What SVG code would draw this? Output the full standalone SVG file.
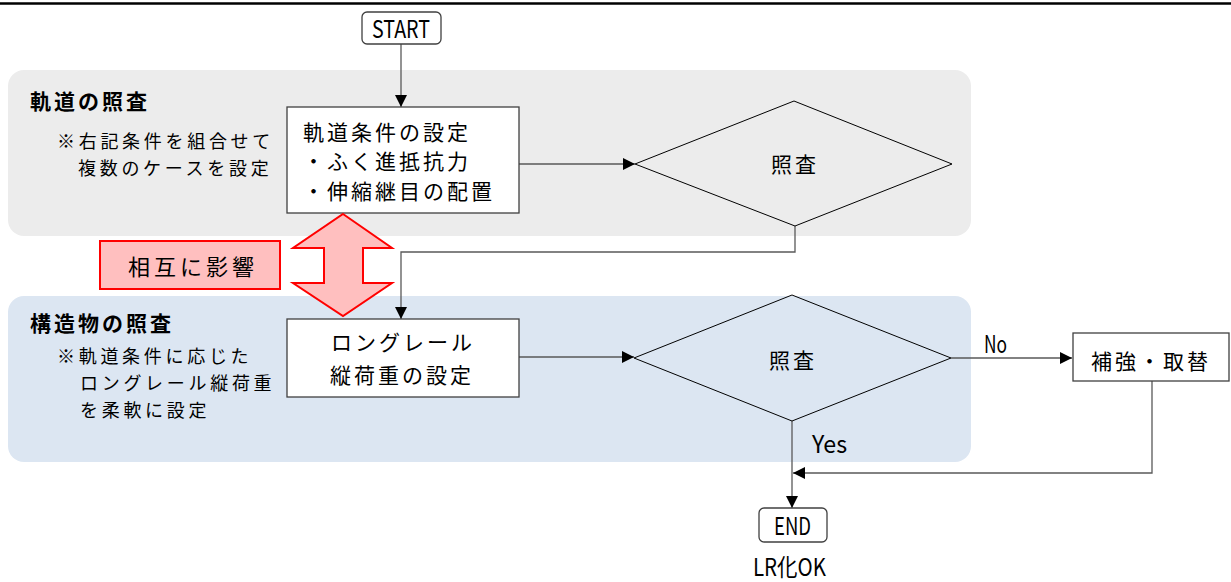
<svg xmlns="http://www.w3.org/2000/svg" width="1231" height="582" viewBox="0 0 1231 582">
<style>
text{font-family:"Noto Sans CJK JP","Noto Sans CJK SC",sans-serif;fill:#000}
.box{fill:#fff;stroke:#404040;stroke-width:1.3}
.term{fill:#fff;stroke:#404040;stroke-width:1.3}
.dia{fill:none;stroke:#000;stroke-width:1}
.bt{font-size:21px;letter-spacing:3px}
.nt{font-size:18px;letter-spacing:3.7px}
.tt{font-size:21px;font-weight:bold;letter-spacing:3px}
.lt{font-size:24px}
.con{fill:none;stroke:#595959;stroke-width:1.3}
</style>
<defs>
<marker id="ah" viewBox="0 0 12 12" refX="12" refY="6" markerWidth="12" markerHeight="12" markerUnits="userSpaceOnUse" orient="auto">
<path d="M0,0 L12,6 L0,12 z" fill="#000"/>
</marker>
</defs>
<rect x="0" y="0" width="1231" height="582" fill="#fff"/>
<line x1="0" y1="3.5" x2="1231" y2="3.5" stroke="#000" stroke-width="2.5"/>

<g id="panel-track">
<rect x="8" y="70" width="963" height="166" rx="16" fill="#ececec"/>
<text class="tt" x="30" y="109">軌道の照査</text>
<text class="nt" x="57" y="148">※右記条件を組合せて</text>
<text class="nt" x="78" y="175">複数のケースを設定</text>
</g>
<g id="panel-structure">
<rect x="8" y="296" width="963" height="166" rx="16" fill="#dce6f2"/>
<text class="tt" x="30" y="331">構造物の照査</text>
<text class="nt" x="57" y="363">※軌道条件に応じた</text>
<text class="nt" x="80" y="390">ロングレール縦荷重</text>
<text class="nt" x="80" y="417">を柔軟に設定</text>
</g>

<g id="connectors">
<path class="con" d="M401,44 V107" marker-end="url(#ah)"/>
<path class="con" d="M519,164 H635" marker-end="url(#ah)"/>
<path class="con" d="M795,226 V252 H401 V319" marker-end="url(#ah)"/>
<path class="con" d="M519,357 H634" marker-end="url(#ah)"/>
<path class="con" d="M951,358 H1072" marker-end="url(#ah)"/>
<path class="con" d="M1152,381 V473 H793" marker-end="url(#ah)"/>
<path class="con" d="M792,421 V508" marker-end="url(#ah)"/>
<text class="lt" x="984" y="353" textLength="23" lengthAdjust="spacingAndGlyphs">No</text>
<text class="lt" x="812" y="453" textLength="35" lengthAdjust="spacingAndGlyphs">Yes</text>
</g>

<g id="start">
<rect class="term" x="362" y="12" width="79" height="32" rx="5"/>
<text class="lt" x="372" y="38" textLength="58" lengthAdjust="spacingAndGlyphs">START</text>
</g>
<g id="track-conditions">
<rect class="box" x="287" y="107" width="232" height="106"/>
<text class="bt" x="303" y="140">軌道条件の設定</text>
<text class="bt" x="303" y="169">・ふく進抵抗力</text>
<text class="bt" x="303" y="199">・伸縮継目の配置</text>
</g>
<g id="check1">
<polygon class="dia" points="635,164 794,101 952,164 795,226"/>
<text class="bt" x="771" y="172">照査</text>
</g>
<g id="mutual">
<polygon points="343,214 392,248 363,248 363,283 392,283 343,316 293,283 324,283 324,248 293,248" fill="#ffbfbf" stroke="#ff0000" stroke-width="2"/>
<rect x="100" y="241" width="180" height="48" fill="#ffbfbf" stroke="#ff0000" stroke-width="2"/>
<text x="128" y="275" style="font-size:22px;letter-spacing:4px">相互に影響</text>
</g>
<g id="longrail">
<rect class="box" x="287" y="319" width="232" height="78"/>
<text class="bt" x="331" y="350">ロングレール</text>
<text class="bt" x="330" y="383">縦荷重の設定</text>
</g>
<g id="check2">
<polygon class="dia" points="634,358 792,295 951,358 792,421"/>
<text class="bt" x="769" y="368">照査</text>
</g>
<g id="reinforce">
<rect class="box" x="1073" y="333" width="156" height="48"/>
<text class="bt" x="1091" y="369">補強・取替</text>
</g>
<g id="end">
<rect class="term" x="759" y="508" width="68" height="34" rx="5"/>
<text class="lt" x="774" y="535" textLength="37" lengthAdjust="spacingAndGlyphs">END</text>
<text class="lt" x="753" y="576" textLength="73" lengthAdjust="spacingAndGlyphs">LR化OK</text>
</g>
</svg>
